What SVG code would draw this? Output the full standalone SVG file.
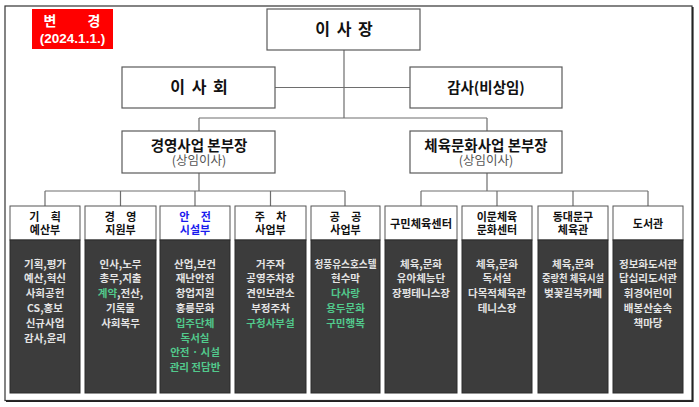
<svg xmlns="http://www.w3.org/2000/svg" width="699" height="407" viewBox="0 0 699 407">
<style>
.k{font-family:"Noto Sans CJK KR","Liberation Sans",sans-serif;font-weight:bold;text-anchor:middle}
.box{fill:#fff;stroke:#5a5a5a;stroke-width:1.2}
.hd{fill:#fff;stroke:#555;stroke-width:1}
.dk{fill:#3c3c3c;stroke:#2a2a2a;stroke-width:1}
.big{font-size:16px;fill:#111;word-spacing:3px}
.mid{font-size:14.5px;fill:#111}
.sub{font-size:12.5px;fill:#555;font-weight:normal}
.ht{font-size:11px;fill:#111}
.blue{fill:#1a1aee}
.bt{font-size:10.5px;fill:#e4e4e4}
.g{fill:#52c98c}
.con{fill:none;stroke:#6e6e6e;stroke-width:1.2}
</style>
<rect width="699" height="407" fill="#fff"/>
<rect x="5" y="6" width="687" height="394.5" fill="none" stroke="#333" stroke-width="1.2"/>
<polyline points="692.8,7 692.8,401.2 6,401.2" fill="none" stroke="#222" stroke-width="1.6"/>

<g id="badge">
<rect x="32" y="9" width="81" height="40" fill="#ff0000"/>
<text class="k" x="50" y="26" font-size="14" fill="#fff">변</text>
<text class="k" x="94" y="26" font-size="14" fill="#fff">경</text>
<text x="72.5" y="43" font-family="Liberation Sans,Arial,sans-serif" font-weight="bold" font-size="13.5" fill="#fff" text-anchor="middle">(2024.1.1.)</text>
</g>

<g id="connectors">
<path class="con" d="M344,50 V118 M275,87.5 H410 M199,118 H487 M199,118 V131 M487,118 V131"/>
<path class="con" d="M199,173 V191 M45,191 H345 M45,191 V206 M120.5,191 V206 M195,191 V206 M270.5,191 V206 M345,191 V206"/>
<path class="con" d="M487,173 V191 M421,191 H648 M421,191 V206 M497,191 V206 M573,191 V206 M648,191 V206"/>
</g>

<g id="ceo">
<rect class="box" x="267" y="9" width="153" height="41"/>
<text class="k big" x="344" y="35">이 사 장</text>
</g>
<g id="board">
<rect class="box" x="122" y="67" width="153" height="41"/>
<text class="k big" x="199" y="93">이 사 회</text>
</g>
<g id="auditor">
<rect class="box" x="410" y="67" width="152" height="41"/>
<text class="k mid" x="486" y="92.5">감사(비상임)</text>
</g>
<g id="mgmt-head">
<rect class="box" x="122" y="131" width="153" height="42"/>
<text class="k mid" x="199" y="150.5">경영사업 본부장</text>
<text class="k sub" x="199" y="165">(상임이사)</text>
</g>
<g id="sports-head">
<rect class="box" x="410" y="131" width="152" height="42"/>
<text class="k mid" x="486" y="150.5">체육문화사업 본부장</text>
<text class="k sub" x="486" y="165">(상임이사)</text>
</g>

<g id="d1">
<rect class="hd" x="10" y="206" width="70" height="34"/>
<rect class="dk" x="10" y="240" width="70" height="153"/>
<text class="k ht" x="45" y="221" word-spacing="9">기 획</text>
<text class="k ht" x="45" y="233.5">예산부</text>
<text class="k bt" x="45" y="267.5">기획,평가</text>
<text class="k bt" x="45" y="282.3">예산,혁신</text>
<text class="k bt" x="45" y="297.1">사회공헌</text>
<text class="k bt" x="45" y="311.9">CS,홍보</text>
<text class="k bt" x="45" y="326.7">신규사업</text>
<text class="k bt" x="45" y="341.5">감사,윤리</text>
</g>
<g id="d2">
<rect class="hd" x="85" y="206" width="71" height="34"/>
<rect class="dk" x="85" y="240" width="71" height="153"/>
<text class="k ht" x="120.5" y="221" word-spacing="9">경 영</text>
<text class="k ht" x="120.5" y="233.5">지원부</text>
<text class="k bt" x="120.5" y="267.5">인사,노무</text>
<text class="k bt" x="120.5" y="282.3">총무,지출</text>
<text class="k bt" x="120.5" y="297.1"><tspan class="g">계약</tspan>,전산,</text>
<text class="k bt" x="120.5" y="311.9">기록물</text>
<text class="k bt" x="120.5" y="326.7">사회복무</text>
</g>
<g id="d3">
<rect class="hd" x="160" y="206" width="70" height="34"/>
<rect class="dk" x="160" y="240" width="70" height="153"/>
<text class="k ht blue" x="195" y="221" word-spacing="9">안 전</text>
<text class="k ht blue" x="195" y="233.5">시설부</text>
<text class="k bt" x="195" y="267.5">산업,보건</text>
<text class="k bt" x="195" y="282.3">재난안전</text>
<text class="k bt" x="195" y="297.1">창업지원</text>
<text class="k bt" x="195" y="311.9">홍릉문화</text>
<text class="k bt g" x="195" y="326.7">입주단체</text>
<text class="k bt g" x="195" y="341.5">독서실</text>
<text class="k bt g" x="195" y="356.3">안전 · 시설</text>
<text class="k bt g" x="195" y="371.1">관리 전담반</text>
</g>
<g id="d4">
<rect class="hd" x="235" y="206" width="71" height="34"/>
<rect class="dk" x="235" y="240" width="71" height="153"/>
<text class="k ht" x="270.5" y="221" word-spacing="9">주 차</text>
<text class="k ht" x="270.5" y="233.5">사업부</text>
<text class="k bt" x="270.5" y="267.5">거주자</text>
<text class="k bt" x="270.5" y="282.3">공영주차장</text>
<text class="k bt" x="270.5" y="297.1">견인보관소</text>
<text class="k bt" x="270.5" y="311.9">부정주차</text>
<text class="k bt g" x="270.5" y="326.7">구청사부설</text>
</g>
<g id="d5">
<rect class="hd" x="311" y="206" width="69" height="34"/>
<rect class="dk" x="311" y="240" width="69" height="153"/>
<text class="k ht" x="345.5" y="221" word-spacing="9">공 공</text>
<text class="k ht" x="345.5" y="233.5">사업부</text>
<text class="k bt" x="345.5" y="267.5" textLength="62" lengthAdjust="spacingAndGlyphs">청풍유스호스텔</text>
<text class="k bt" x="345.5" y="282.3">현수막</text>
<text class="k bt g" x="345.5" y="297.1">다사랑</text>
<text class="k bt g" x="345.5" y="311.9">용두문화</text>
<text class="k bt g" x="345.5" y="326.7">구민행복</text>
</g>
<g id="d6">
<rect class="hd" x="385" y="206" width="72" height="34"/>
<rect class="dk" x="385" y="240" width="72" height="153"/>
<text class="k ht" x="421" y="227.5" textLength="62" lengthAdjust="spacingAndGlyphs">구민체육센터</text>
<text class="k bt" x="421" y="267.5">체육,문화</text>
<text class="k bt" x="421" y="282.3">유아체능단</text>
<text class="k bt" x="421" y="297.1">장평테니스장</text>
</g>
<g id="d7">
<rect class="hd" x="462" y="206" width="70" height="34"/>
<rect class="dk" x="462" y="240" width="70" height="153"/>
<text class="k ht" x="497" y="221">이문체육</text>
<text class="k ht" x="497" y="233.5">문화센터</text>
<text class="k bt" x="497" y="267.5">체육,문화</text>
<text class="k bt" x="497" y="282.3">독서실</text>
<text class="k bt" x="497" y="297.1">다목적체육관</text>
<text class="k bt" x="497" y="311.9">테니스장</text>
</g>
<g id="d8">
<rect class="hd" x="538" y="206" width="70" height="34"/>
<rect class="dk" x="538" y="240" width="70" height="153"/>
<text class="k ht" x="573" y="221">동대문구</text>
<text class="k ht" x="573" y="233.5">체육관</text>
<text class="k bt" x="573" y="267.5">체육,문화</text>
<text class="k bt" x="573" y="282.3" textLength="62" lengthAdjust="spacingAndGlyphs">중랑천 체육시설</text>
<text class="k bt" x="573" y="297.1">벚꽃길북카페</text>
</g>
<g id="d9">
<rect class="hd" x="613" y="206" width="70" height="34"/>
<rect class="dk" x="613" y="240" width="70" height="153"/>
<text class="k ht" x="648" y="227.5">도서관</text>
<text class="k bt" x="648" y="267.5">정보화도서관</text>
<text class="k bt" x="648" y="282.3">답십리도서관</text>
<text class="k bt" x="648" y="297.1">휘경어린이</text>
<text class="k bt" x="648" y="311.9">배봉산숲속</text>
<text class="k bt" x="648" y="326.7">책마당</text>
</g>
</svg>
